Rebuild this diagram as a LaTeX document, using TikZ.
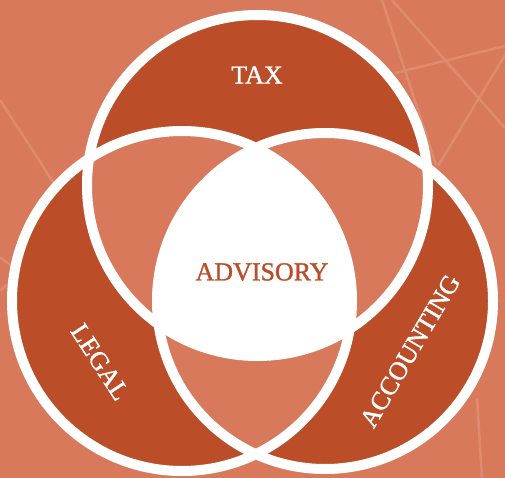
\documentclass[tikz,border=0pt]{standalone}
\usepackage{fontspec}
\setmainfont{Liberation Serif}
\newfontfamily\lblfont[FakeBold=1.2]{Liberation Serif}
\definecolor{bgc}{RGB}{216,121,91}
\definecolor{darkc}{RGB}{187,78,41}
\definecolor{deco}{RGB}{223,139,112}
\begin{document}
\begin{tikzpicture}[x=1pt,y=-1pt,
  lbl/.style={font=\lblfont\fontsize{26}{30}\selectfont, inner sep=0pt},
  decoline/.style={draw=deco, line width=2.5pt},
  ring/.style={draw=white, line width=10pt}]
\useasboundingbox (0,0) rectangle (505,478);
\fill[bgc] (0,0) rectangle (505,478);
% faint decorative lines
\path[decoline] (382,0) -- (436,165);
\path[decoline] (392,0) -- (505,128);
\path[decoline] (395,73) -- (505,46);
\path[decoline] (505,55) -- (438,166);
\path[decoline] (0,100) -- (55,185);
\path[decoline] (0,257) -- (14,268);
\path[decoline] (0,290) -- (18,277);
\path[decoline] (477,398) -- (482,478);
% circles
\fill[bgc] (257.5,185.5) circle[radius=170.5] (182,301) circle[radius=170] (325,301) circle[radius=168];
\fill[darkc, even odd rule] (257.5,185.5) circle[radius=170.5] (182,301) circle[radius=170] (325,301) circle[radius=168];
\begin{scope}
  \clip (257.5,185.5) circle[radius=170.5];
  \clip (182,301) circle[radius=170];
  \fill[white] (325,301) circle[radius=168];
\end{scope}
\path[ring] (257.5,185.5) circle[radius=170.5];
\path[ring] (182,301) circle[radius=170];
\path[ring] (325,301) circle[radius=168];
% labels
\node[lbl, text=white] (tax) at (257,75) {TAX};
\node[lbl, text=darkc] (adv) at (262,272) {ADVISORY};
\node[lbl, text=white, rotate=-57] (legal) at (100,362) {LEGAL};
\node[lbl, text=white, rotate=59.5] (acc) at (410,351) {ACCOUNTING};
\end{tikzpicture}
\end{document}
